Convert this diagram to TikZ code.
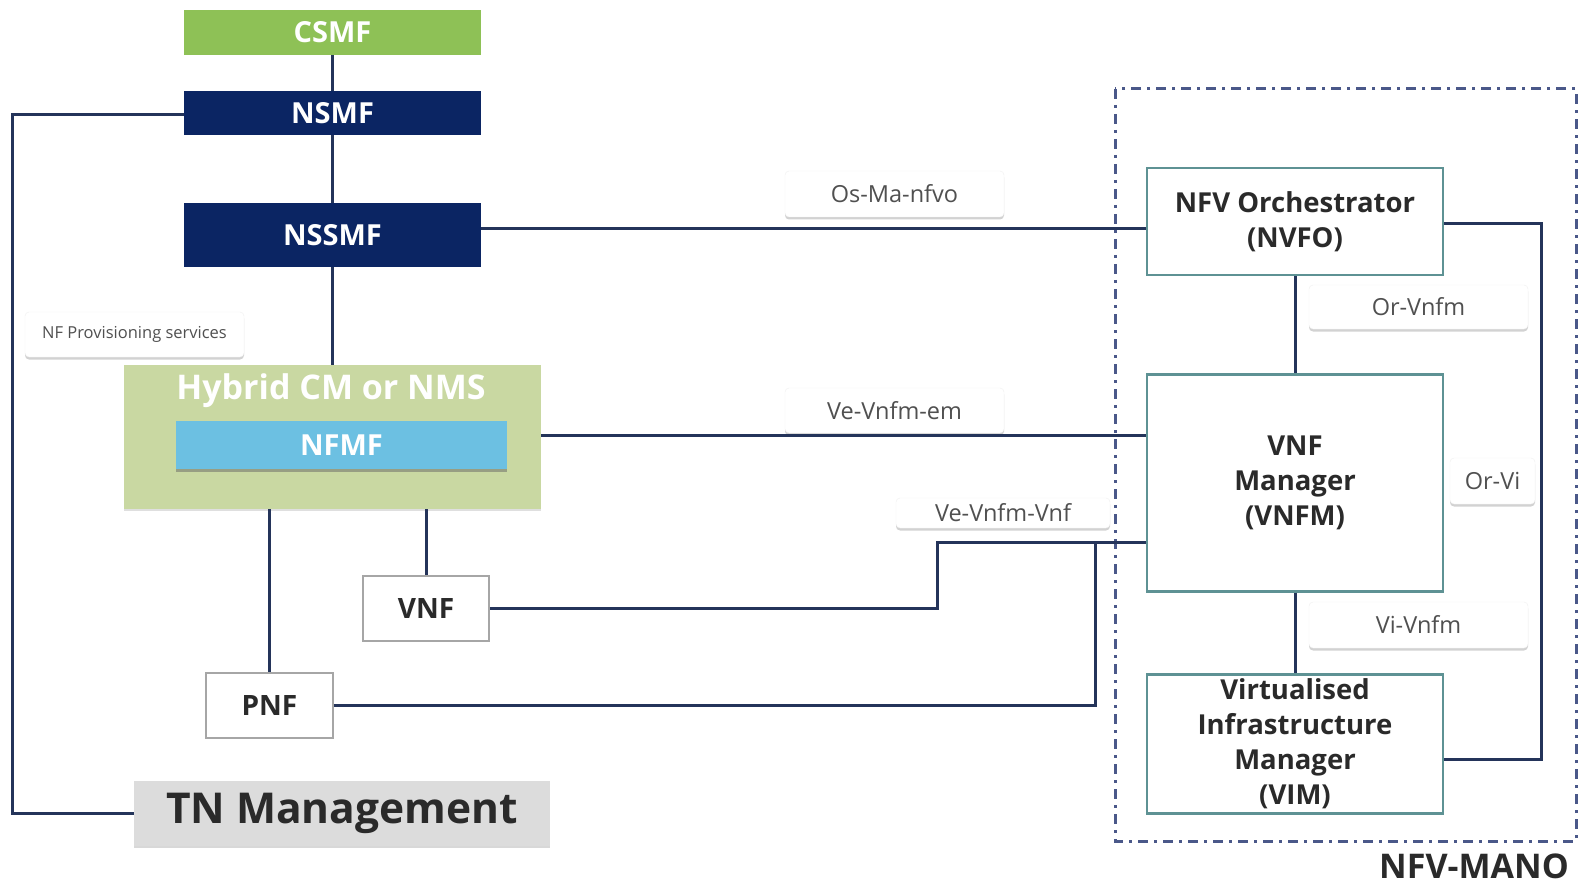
\documentclass[tikz,border=0pt]{standalone}
\usepackage{fontspec}
\setmainfont{Open Sans}
\usetikzlibrary{shadows}
\definecolor{navy}{HTML}{0B2563}
\definecolor{lime}{HTML}{8EC156}
\definecolor{olive}{HTML}{C9D8A2}
\definecolor{sky}{HTML}{6CC0E2}
\definecolor{tngrey}{HTML}{DCDCDC}
\definecolor{wire}{HTML}{24345A}
\definecolor{teal}{HTML}{5E9294}
\definecolor{txt}{HTML}{2A2A2A}
\definecolor{lbl}{HTML}{505050}
\definecolor{mano}{HTML}{4A5889}
\tikzset{
  fs/.style={font=\fontsize{#1}{30}\selectfont\bfseries},
  blk/.style={inner sep=0pt, align=center},
  topbox/.style={blk, fill=#1, text=white, fs=29},
  manobox/.style={blk, draw=teal, line width=2.2pt, fill=white, text=txt,
    font=\fontsize{27.5}{35}\selectfont\bfseries},
  nfbox/.style={blk, draw=gray!70, line width=1.6pt, fill=white, text=txt, fs=28},
  tag/.style={inner sep=0pt, rounded corners=4pt, fill=white, draw=gray!12,
    text=lbl, font=\fontsize{23.5}{28}\selectfont,
    drop shadow={shadow xshift=0pt, shadow yshift=-2.5pt, opacity=0.35, fill=gray}},
  wireline/.style={draw=wire, line width=3pt},
}
\begin{document}
\begin{tikzpicture}[x=1pt,y=-1pt]
\useasboundingbox[fill=white] (0,0) rectangle (1579,893);

% management hierarchy
\node[topbox=lime, minimum width=297pt, minimum height=45pt] (csmf) at (332.5,32.5) {CSMF};
\node[topbox=navy, minimum width=297pt, minimum height=44pt] (nsmf) at (332.5,113) {NSMF};
\node[topbox=navy, minimum width=297pt, minimum height=64pt] (nssmf) at (332.5,235) {NSSMF};

\node[tag, minimum width=219pt, minimum height=45pt, font=\fontsize{16.5}{20}\selectfont] (prov) at (134.5,334.5) {NF Provisioning services};

\node[blk, fill=olive, minimum width=417pt, minimum height=144pt,
  drop shadow={shadow xshift=0pt, shadow yshift=-2pt, opacity=0.25, fill=gray}] (hyb) at (332.5,437) {};
\node[text=white, fs=34, inner sep=0pt] (hybt) at (331,391) {Hybrid CM or NMS};
\node[topbox=sky, minimum width=331pt, minimum height=48pt,
  drop shadow={shadow xshift=0pt, shadow yshift=-2.5pt, opacity=0.5, fill=black!60}] (nfmf) at (341.5,445) {NFMF};

\node[nfbox, minimum width=126pt, minimum height=65pt] (vnf) at (426,608.5) {VNF};
\node[nfbox, minimum width=127pt, minimum height=65pt] (pnf) at (269.5,705.5) {PNF};

\node[blk, fill=tngrey, text=txt, fs=42.5, minimum width=416pt, minimum height=65pt,
  drop shadow={shadow xshift=0pt, shadow yshift=-2pt, opacity=0.3, fill=gray}] (tn) at (342,813.5) {TN Management};

% NFV-MANO frame
\draw[mano, line width=3pt, dash pattern=on 10pt off 6pt on 3pt off 6pt] (1115,89) rectangle (1576,841);
\node[inner sep=0pt, fill=white, minimum width=213pt, minimum height=42pt, anchor=north west] (manobg) at (1366,851) {};
\node[text=txt, fs=34, inner sep=0pt] (manot) at (1474,866) {NFV-MANO};

\node[manobox, minimum width=296pt, minimum height=107pt] (nfvo) at (1295,221.5) {NFV Orchestrator\\(NVFO)};
\node[manobox, minimum width=296pt, minimum height=217pt] (vnfm) at (1295,483) {VNF\\Manager\\(VNFM)};
\node[manobox, minimum width=296pt, minimum height=139pt] (vim) at (1295,744) {Virtualised\\Infrastructure\\Manager\\(VIM)};

% interface labels
\node[tag, minimum width=219pt, minimum height=46pt] (osma) at (894.5,194) {Os-Ma-nfvo};
\node[tag, minimum width=219pt, minimum height=45pt] (veem) at (894.5,410.5) {Ve-Vnfm-em};
\node[tag, minimum width=214pt, minimum height=30pt] (vevnf) at (1003,513) {Ve-Vnfm-Vnf};
\node[tag, minimum width=219pt, minimum height=44pt] (orvnfm) at (1418.5,307) {Or-Vnfm};
\node[tag, minimum width=85pt, minimum height=46pt] (orvi) at (1492.5,481) {Or-Vi};
\node[tag, minimum width=219pt, minimum height=46pt] (vivnfm) at (1418.5,625) {Vi-Vnfm};

% connectors
\coordinate (leftrail) at (12,0);
\coordinate (vnfturn) at (937,0);
\coordinate (pnfturn) at (1095,0);
\coordinate (orvirail) at (1541,0);

\draw[wireline] (csmf.south) -- (nsmf.north);
\draw[wireline] (nsmf.south) -- (nssmf.north);
\draw[wireline] (nssmf.south) -- (hyb.north -| nssmf.south);
\draw[wireline] ([yshift=-2pt]nsmf.west) -| (leftrail |- tn.west) -- (tn.west);
\draw[wireline] (nssmf.east |- 0,229) -- (nfvo.west |- 0,229);
\draw[wireline] (hyb.east |- 0,435) -- (vnfm.west |- 0,435);
\draw[wireline] (hyb.south -| pnf.north) -- (pnf.north);
\draw[wireline] (hyb.south -| vnf.north) -- (vnf.north);
\draw[wireline] (vnf.east) -- (vnfturn |- vnf.east) -- (vnfturn |- 0,542) -- (vnfm.west |- 0,542);
\draw[wireline] (pnf.east) -| (pnfturn |- 0,542);
\draw[wireline] (nfvo.south) -- (vnfm.north);
\draw[wireline] (vnfm.south) -- (vim.north);
\draw[wireline] (nfvo.east |- 0,224) -- (orvirail |- 0,224) -- (orvirail |- 0,759) -- (vim.east |- 0,759);
\end{tikzpicture}
\end{document}
